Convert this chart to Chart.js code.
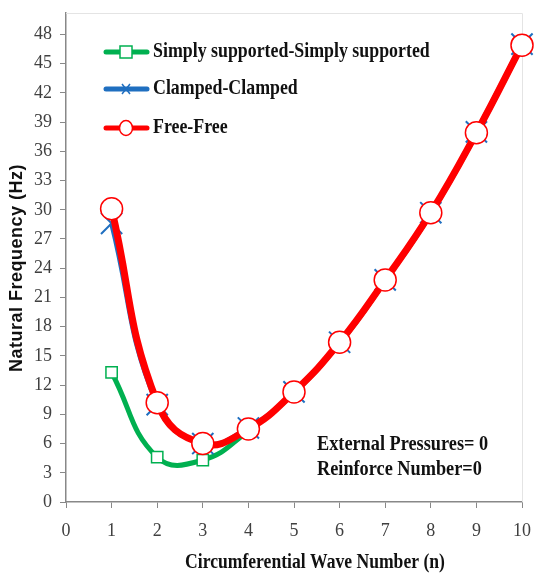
<!DOCTYPE html>
<html>
<head>
<meta charset="utf-8">
<script src="https://cdn.jsdelivr.net/npm/chart.js@4"></script>
<style>
  html, body { margin: 0; padding: 0; background: #fff; }
  #wrap { position: relative; width: 535px; height: 577px; }
</style>
</head>
<body>
<div id="wrap"><canvas id="chart" width="535" height="577"></canvas></div>
<script>
// Données
const waveNumbers = [1, 2, 3, 4, 5, 6, 7, 8, 9, 10];
const simplySupported = [13.3, 4.6, 4.3, 7.3, 11.2, 16.3, 22.7, 29.6, 37.8, 46.8];
const clampedClamped = [28.6, 10.0, 6.0, 7.6, 11.3, 16.4, 22.8, 29.7, 38.0, 47.0];
const freeFree = [30.1, 10.2, 6.0, 7.5, 11.3, 16.4, 22.8, 29.7, 37.9, 46.9];
const yTicks = [0, 3, 6, 9, 12, 15, 18, 21, 24, 27, 30, 33, 36, 39, 42, 45, 48];
const xTicks = [0, 1, 2, 3, 4, 5, 6, 7, 8, 9, 10];
const seriesNames = ['Simply supported-Simply supported', 'Clamped-Clamped', 'Free-Free'];
const noteLines = ['External Pressures= 0', 'Reinforce Number=0'];
const xTitle = 'Circumferential Wave Number (n)';
const yTitle = 'Natural Frequency (Hz)';

const GREEN = '#00b050';
const BLUE = '#1f6fc0';
const RED = '#ff0000';
const SERIF = '"Liberation Serif", "DejaVu Serif", serif';

function pts(values) {
    return values.map((v, i) => ({ x: waveNumbers[i], y: v }));
}

// Texte serré horizontalement (imitation d'une police étroite)
function narrowText(ctx, text, x, y, sx) {
    ctx.save();
    ctx.translate(x, y);
    ctx.scale(sx, 1);
    ctx.fillText(text, 0, 0);
    ctx.restore();
}

// Cadre léger + légende + titres + annotation
const extrasPlugin = {
    id: 'extras',
    beforeDatasetsDraw(chart) {
        const a = chart.chartArea;
        const ctx = chart.ctx;
        ctx.save();
        ctx.strokeStyle = '#e4e4e4';
        ctx.lineWidth = 1;
        ctx.beginPath();
        ctx.moveTo(a.left, a.top + 0.5);
        ctx.lineTo(a.right + 0.5, a.top + 0.5);
        ctx.lineTo(a.right + 0.5, a.bottom);
        ctx.stroke();
        ctx.restore();
    },
    afterDraw(chart) {
        const ctx = chart.ctx;
        ctx.save();
        const rows = [
            { y: 52, color: GREEN, marker: 'rect' },
            { y: 89, color: BLUE, marker: 'cross' },
            { y: 128, color: RED, marker: 'circle' }
        ];
        rows.forEach((r, i) => {
            ctx.strokeStyle = r.color;
            ctx.lineWidth = 5;
            ctx.lineCap = 'round';
            ctx.beginPath();
            ctx.moveTo(106, r.y);
            ctx.lineTo(147, r.y);
            ctx.stroke();
            ctx.lineCap = 'butt';
            const cx = 126;
            if (r.marker === 'rect') {
                ctx.fillStyle = '#fff';
                ctx.fillRect(cx - 6, r.y - 6, 12, 12);
                ctx.lineWidth = 1.5;
                ctx.strokeRect(cx - 6, r.y - 6, 12, 12);
            } else if (r.marker === 'cross') {
                ctx.lineWidth = 1.5;
                ctx.beginPath();
                ctx.moveTo(cx - 4, r.y - 5); ctx.lineTo(cx + 4, r.y + 5);
                ctx.moveTo(cx + 4, r.y - 5); ctx.lineTo(cx - 4, r.y + 5);
                ctx.stroke();
            } else {
                ctx.fillStyle = '#fff';
                ctx.beginPath();
                ctx.ellipse(cx, r.y, 6.5, 7.5, 0, 0, Math.PI * 2);
                ctx.fill();
                ctx.lineWidth = 1.5;
                ctx.stroke();
            }
            ctx.fillStyle = '#111';
            ctx.font = 'bold 21px ' + SERIF;
            ctx.textBaseline = 'middle';
            ctx.textAlign = 'left';
            narrowText(ctx, seriesNames[i], 153, r.y, 0.85);
        });

        // Annotation
        ctx.font = 'bold 21px ' + SERIF;
        ctx.fillStyle = '#111';
        ctx.textBaseline = 'middle';
        ctx.textAlign = 'left';
        noteLines.forEach((t, i) => {
            narrowText(ctx, t, 317, 445 + i * 25, 0.87);
        });

        // Titres des axes
        ctx.textAlign = 'center';
        ctx.font = 'bold 20px ' + SERIF;
        narrowText(ctx, xTitle, 315, 563, 0.88);
        ctx.save();
        ctx.translate(17, 268);
        ctx.rotate(-Math.PI / 2);
        ctx.font = 'bold 18px "Liberation Sans", Arial, sans-serif';
        ctx.letterSpacing = '0.5px';
        ctx.fillText(yTitle, 0, 0);
        ctx.restore();
        ctx.restore();
    }
};

const ctx = document.getElementById('chart');
new Chart(ctx, {
    type: 'line',
    data: {
        datasets: [
            {
                label: seriesNames[0],
                data: pts(simplySupported),
                borderColor: GREEN,
                borderWidth: 5,
                tension: 0.45,
                pointStyle: 'rect',
                pointRadius: 8,
                pointBackgroundColor: '#fff',
                pointBorderColor: GREEN,
                pointBorderWidth: 1.5,
                clip: false,
                order: 3
            },
            {
                label: seriesNames[1],
                data: pts(clampedClamped),
                borderColor: BLUE,
                borderWidth: 5,
                tension: 0.45,
                pointStyle: 'crossRot',
                pointRadius: 15,
                pointBorderColor: BLUE,
                pointBorderWidth: 2,
                clip: false,
                order: 2
            },
            {
                label: seriesNames[2],
                data: pts(freeFree),
                borderColor: RED,
                borderWidth: 7,
                tension: 0.45,
                pointStyle: 'circle',
                pointRadius: 11,
                pointBackgroundColor: '#fff',
                pointBorderColor: RED,
                pointBorderWidth: 1.5,
                clip: false,
                order: 1
            }
        ]
    },
    options: {
        responsive: false,
        animation: false,
        layout: { autoPadding: false, padding: { top: 13, right: 13, left: 0, bottom: 0 } },
        plugins: {
            legend: { display: false },
            tooltip: { enabled: false }
        },
        scales: {
            x: {
                type: 'linear',
                min: 0,
                max: 10,
                afterBuildTicks: scale => { scale.ticks = xTicks.map(v => ({ value: v })); },
                afterFit: scale => {
                    scale.height = 75;
                    scale.paddingLeft = 0;
                    scale.paddingRight = 0;
                },
                grid: { drawOnChartArea: false, drawTicks: true, tickLength: 6, color: '#888' },
                border: { color: '#888', width: 1.5 },
                ticks: {
                    color: '#404040',
                    font: { family: SERIF, size: 18 },
                    padding: 12,
                    maxRotation: 0
                }
            },
            y: {
                min: 0,
                max: 50.2,
                afterBuildTicks: scale => { scale.ticks = yTicks.map(v => ({ value: v })); },
                afterFit: scale => {
                    scale.width = 66;
                    scale.paddingTop = 0;
                    scale.paddingBottom = 0;
                },
                grid: { drawOnChartArea: false, drawTicks: true, tickLength: 6, color: '#888' },
                border: { color: '#888', width: 1.5 },
                ticks: {
                    color: '#404040',
                    font: { family: SERIF, size: 18 },
                    padding: 8
                }
            }
        }
    },
    plugins: [extrasPlugin]
});
</script>
</body>
</html>
